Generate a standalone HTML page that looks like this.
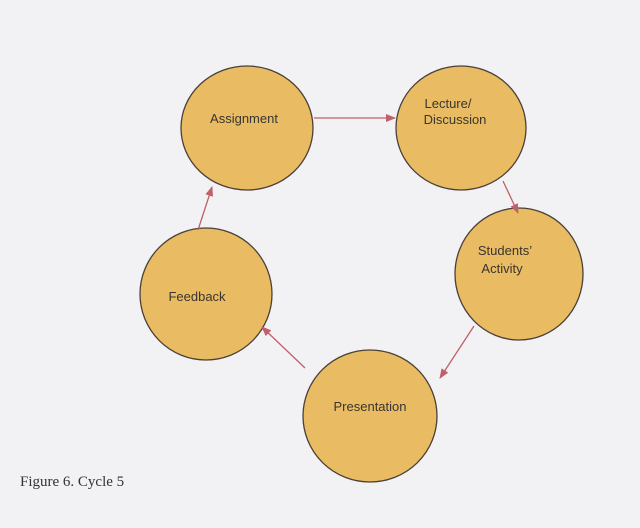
<!DOCTYPE html>
<html><head><style>
body{margin:0;background:#f2f2f4;}
svg{display:block}
text{font-family:"Liberation Sans",sans-serif;font-size:13px;fill:#3a3530;}
</style></head><body>
<svg width="640" height="528" viewBox="0 0 640 528">
<defs><marker id="a" markerWidth="10" markerHeight="8" refX="9" refY="4" orient="auto" markerUnits="userSpaceOnUse"><path d="M0,0 L10,4 L0,8 z" fill="#c0606a"/></marker></defs>
<g fill="#e9bb62" stroke="#4a4038" stroke-width="1.3">
<ellipse cx="247" cy="128" rx="66" ry="62"/>
<ellipse cx="461" cy="128" rx="65" ry="62"/>
<ellipse cx="519" cy="274" rx="64" ry="66"/>
<ellipse cx="206" cy="294" rx="66" ry="66"/>
<ellipse cx="370" cy="416" rx="67" ry="66"/>
</g>
<g stroke="#c0606a" stroke-width="1.3" marker-end="url(#a)">
<line x1="314" y1="118" x2="395" y2="118"/>
<line x1="503" y1="181" x2="518" y2="213"/>
<line x1="474" y1="326" x2="440" y2="378"/>
<line x1="305" y1="368" x2="262" y2="327"/>
<line x1="198" y1="230" x2="212" y2="187"/>
</g>
<text x="244" y="123" text-anchor="middle">Assignment</text>
<text x="448" y="108" text-anchor="middle">Lecture/</text>
<text x="455" y="124" text-anchor="middle">Discussion</text>
<text x="505" y="255" text-anchor="middle">Students’</text>
<text x="502" y="273" text-anchor="middle">Activity</text>
<text x="197" y="301" text-anchor="middle">Feedback</text>
<text x="370" y="411" text-anchor="middle">Presentation</text>
<text x="20" y="486" style="font-family:'Liberation Serif',serif;font-size:15px;fill:#333">Figure 6.  Cycle 5</text>
</svg>
</body></html>
